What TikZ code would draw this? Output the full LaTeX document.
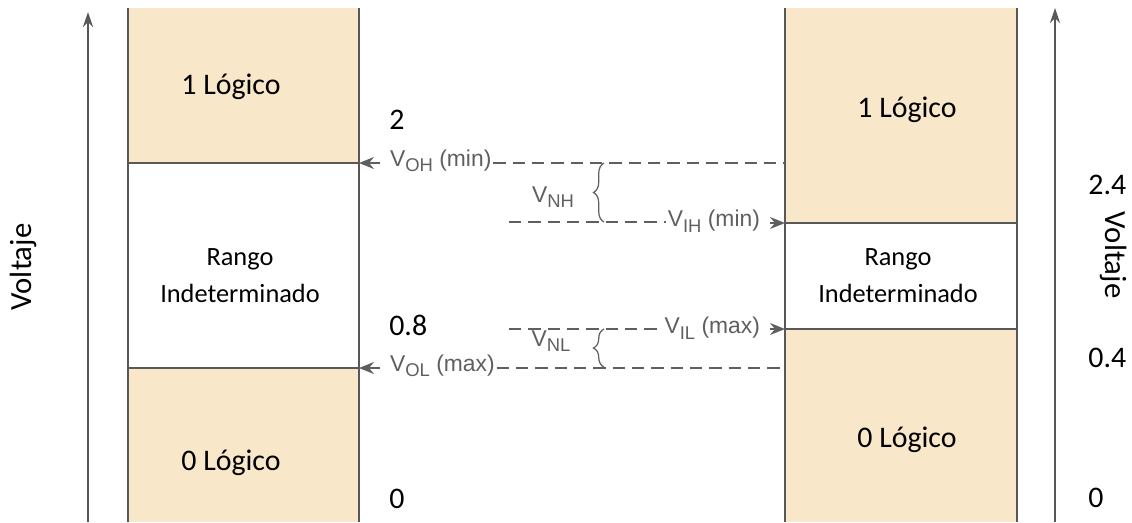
\documentclass[tikz,border=0pt]{standalone}
\usepackage{fontspec}
\setmainfont{Carlito}
\newfontfamily\hvfont{Liberation Sans}
\usetikzlibrary{arrows.meta, decorations.pathreplacing}

\definecolor{logicfill}{RGB}{249,231,202}
\definecolor{edgegray}{RGB}{88,88,88}
\definecolor{labelgray}{RGB}{95,95,95}

\newcommand{\lsub}[1]{\raisebox{-0.45ex}{\fontsize{10.5}{12}\selectfont #1}}

\begin{document}
\begin{tikzpicture}[x=0.02cm, y=-0.02cm,
      txt/.style={font=\fontsize{17}{21}\selectfont, inner sep=0pt, align=center},
      rng/.style={font=\fontsize{15}{21}\selectfont, inner sep=0pt, align=center},
      lvl/.style={font=\hvfont\fontsize{13}{15}\selectfont, text=labelgray, inner sep=1pt},
      col/.style={draw=edgegray, line width=1pt},
      dashline/.style={draw=labelgray, line width=0.7pt, dash pattern=on 7pt off 4pt},
      ptr/.style={-{Stealth[length=3mm, width=2.4mm, inset=1mm]}, draw=labelgray,
                  line width=0.7pt, shorten <=1.6mm},
      vaxis/.style={-{Stealth[length=3mm, width=2mm]}, draw=edgegray, line width=1pt},
      brc/.style={decorate, decoration={brace, amplitude=6pt}, draw=labelgray, line width=0.7pt}]
    \useasboundingbox (0,0) rectangle (1132,522);

    % left column (outputs)
    \fill[logicfill] (128,8) rectangle (359,163);
    \fill[logicfill] (128,368) rectangle (359,522);
    \draw[col] (128,8) -- (128,522);
    \draw[col] (359,8) -- (359,522);
    \draw[col] (128,163) -- (359,163);
    \draw[col] (128,368) -- (359,368);

    % right column (inputs)
    \fill[logicfill] (785,8) rectangle (1017,223);
    \fill[logicfill] (785,329) rectangle (1017,522);
    \draw[col] (785,8) -- (785,522);
    \draw[col] (1017,8) -- (1017,522);
    \draw[col] (785,223) -- (1017,223);
    \draw[col] (785,329) -- (1017,329);

    % axes
    \draw[vaxis] (88,522) -- (88,12);
    \draw[vaxis] (1055,522) -- (1055,8);
    \node[txt, font=\fontsize{17.5}{21}\selectfont, rotate=90]  (voltl) at (23,267)  {Voltaje};
    \node[txt, font=\fontsize{17.5}{21}\selectfont, rotate=-90] (voltr) at (1114,255) {Voltaje};

    \node[txt] (one-l)  at (231,87)  {1 Lógico};
    \node[rng] (rng-l)  at (240,276) {Rango\\Indeterminado};
    \node[txt] (zero-l) at (231,463) {0 Lógico};
    \node[txt] (one-r)  at (907,110) {1 Lógico};
    \node[rng] (rng-r)  at (898,276) {Rango\\Indeterminado};
    \node[txt] (zero-r) at (907,440) {0 Lógico};

    \node[txt, anchor=west] (n2)   at (389,120) {2};
    \node[txt, anchor=west] (n08)  at (389,325) {0.8};
    \node[txt, anchor=west] (n0l)  at (389,499) {0};
    \node[txt, anchor=west] (n24)  at (1088,185) {2.4};
    \node[txt, anchor=west] (n04)  at (1088,358) {0.4};
    \node[txt, anchor=west] (n0r)  at (1088,498) {0};

    % level labels
    \node[lvl, anchor=west] (voh) at (388,161) {V\lsub{OH} (min)};
    \node[lvl, anchor=west] (vol) at (388,366) {V\lsub{OL} (max)};
    \node[lvl, anchor=east] (vih) at (762,221) {V\lsub{IH} (min)};
    \node[lvl, anchor=east] (vil) at (762,328) {V\lsub{IL} (max)};
    \node[lvl] (vnh) at (553,197) {V\lsub{NH}};
    \node[lvl] (vnl) at (551,341) {V\lsub{NL}};

    \coordinate (l-oh) at (359,163);
    \coordinate (l-ol) at (359,368);
    \coordinate (r-oh) at (785,163);
    \coordinate (r-ih) at (785,223);
    \coordinate (r-il) at (785,329);
    \coordinate (r-ol) at (785,368);
    \coordinate (m-ih) at (509,222);
    \coordinate (m-il) at (509,329);
    \coordinate (b-nh-t) at (604,163);
    \coordinate (b-nh-b) at (604,222);
    \coordinate (b-nl-t) at (604,329);
    \coordinate (b-nl-b) at (604,367);

    \draw[ptr] (voh.west |- l-oh) -- (l-oh);
    \draw[ptr] (vol.west |- l-ol) -- (l-ol);
    \draw[ptr] (vih.east |- r-ih) -- (r-ih);
    \draw[ptr] (vil.east |- r-il) -- (r-il);

    \draw[dashline] (voh.east |- r-oh) -- (r-oh);
    \draw[dashline] (vol.east |- r-ol) -- (r-ol);
    \draw[dashline] (m-ih) -- (vih.west |- m-ih);
    \draw[dashline] (m-il) -- (vil.west |- m-il);

    \draw[brc] (b-nh-b) -- (b-nh-t);
    \draw[brc] (b-nl-b) -- (b-nl-t);
  \end{tikzpicture}
\end{document}
